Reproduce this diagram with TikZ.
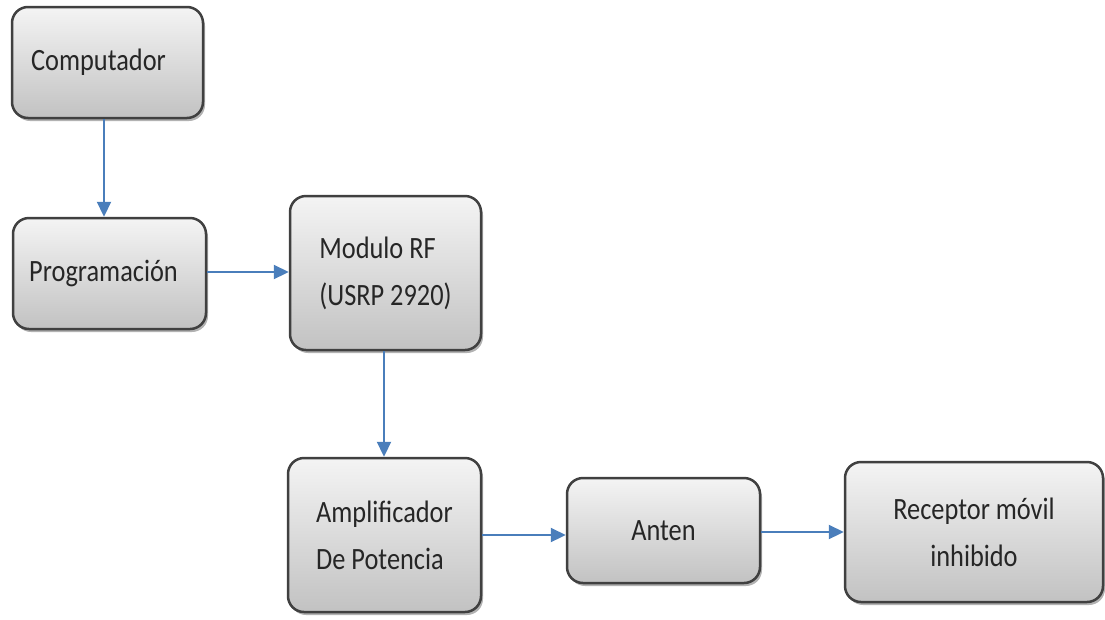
\documentclass[tikz,border=0pt]{standalone}
\usepackage{fontspec}
\setmainfont{Carlito}[FakeStretch=0.85]
\usetikzlibrary{arrows.meta,shadows}
\definecolor{arrowblue}{HTML}{4A7EBB}
\definecolor{boxline}{HTML}{404040}
\definecolor{boxtop}{HTML}{F4F4F4}
\definecolor{boxbottom}{HTML}{C2C2C2}
\tikzset{
  blockbox/.style={draw=boxline, line width=2.5pt, rounded corners=16pt,
    top color=boxtop, bottom color=boxbottom,
    drop shadow={shadow xshift=2pt, shadow yshift=-3pt, opacity=0.3, fill=black},
    font=\fontsize{31}{47}\selectfont, text=black!85, inner sep=0pt},
  flow/.style={draw=arrowblue, line width=2.2pt, -{Triangle[length=15pt,width=14pt]}}
}
\begin{document}
\begin{tikzpicture}[x=1pt,y=-1pt]
\useasboundingbox (0,0) rectangle (1105,619);
\node[blockbox, minimum width=191pt, minimum height=111pt] (comp) at (107.5,62.5) {Computador\hspace*{18pt}};
\node[blockbox, minimum width=193pt, minimum height=111pt] (prog) at (109.5,273.5) {Programación\hspace*{12pt}};
\node[blockbox, minimum width=191pt, minimum height=154pt, align=left] (mod) at (385.5,273) {Modulo RF\\(USRP 2920)};
\node[blockbox, minimum width=193pt, minimum height=154pt, align=left] (amp) at (384.5,535) {Amplificador\\De Potencia};
\node[blockbox, minimum width=193pt, minimum height=105pt] (ant) at (663.5,530.5) {Anten};
\node[blockbox, minimum width=258pt, minimum height=140pt, align=center] (rec) at (974,532) {Receptor móvil\\inhibido};
\draw[flow] ([xshift=-3.5pt]comp.south) -- ([xshift=-3.5pt]comp.south |- prog.north);
\draw[flow] ([yshift=1.5pt]prog.east) -- ([yshift=1.5pt]prog.east -| mod.west);
\draw[flow] ([xshift=-1.5pt]mod.south) -- ([xshift=-1.5pt]mod.south |- amp.north);
\draw[flow] (amp.east) -- (amp.east -| ant.west);
\draw[flow] ([yshift=-1.5pt]ant.east) -- ([yshift=-1.5pt]ant.east -| rec.west);
\end{tikzpicture}
\end{document}
